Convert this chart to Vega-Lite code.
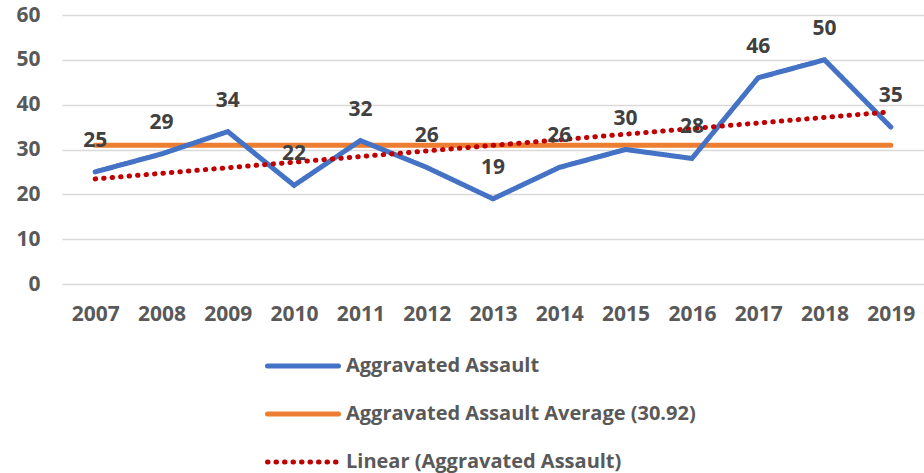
{
  "$schema": "https://vega.github.io/schema/vega-lite/v6.json",
  "width": 862,
  "height": 269,
  "autosize": {"type": "none"},
  "padding": {"left": 62, "top": 15, "right": 0, "bottom": 189},
  "background": "white",
  "config": {
    "view": {"stroke": null},
    "font": "Open Sans",
    "axis": {"labelFont": "Open Sans", "labelFontWeight": "bold", "labelFontSize": 21, "labelColor": "#595959", "ticks": false, "domain": false, "title": null},
    "legend": {"labelFont": "Open Sans"}
  },
  "data": {
    "values": [
      {"year": 2007, "value": 25},
      {"year": 2008, "value": 29},
      {"year": 2009, "value": 34},
      {"year": 2010, "value": 22},
      {"year": 2011, "value": 32},
      {"year": 2012, "value": 26},
      {"year": 2013, "value": 19},
      {"year": 2014, "value": 26},
      {"year": 2015, "value": 30},
      {"year": 2016, "value": 28},
      {"year": 2017, "value": 46},
      {"year": 2018, "value": 50},
      {"year": 2019, "value": 35}
    ]
  },
  "encoding": {
    "x": {
      "field": "year", "type": "quantitative",
      "scale": {"domain": [2006.5, 2019.5], "nice": false, "zero": false},
      "axis": {"values": [2007,2008,2009,2010,2011,2012,2013,2014,2015,2016,2017,2018,2019], "format": "d", "grid": false, "labelPadding": 19, "labelFlush": false}
    }
  },
  "layer": [
    {
      "mark": {"type": "line", "strokeCap": "round", "strokeJoin": "miter"},
      "transform": [{"joinaggregate": [{"op": "mean", "field": "value", "as": "avg"}]}],
      "encoding": {
        "y": {"field": "avg", "type": "quantitative"},
        "color": {"datum": "Aggravated Assault Average (30.92)"},
        "strokeDash": {"datum": "Aggravated Assault Average (30.92)"},
        "strokeWidth": {"datum": "Aggravated Assault Average (30.92)"}
      }
    },
    {
      "mark": {"type": "line", "strokeCap": "round", "strokeJoin": "miter"},
      "encoding": {
        "y": {
          "field": "value", "type": "quantitative",
          "scale": {"domain": [0, 60], "nice": false},
          "axis": {"values": [0,10,20,30,40,50,60], "grid": true, "gridColor": "#d9d9d9", "gridWidth": 1.3, "labelPadding": 22}
        },
        "color": {
          "datum": "Aggravated Assault",
          "scale": {"domain": ["Aggravated Assault", "Aggravated Assault Average (30.92)", "Linear (Aggravated Assault)"], "range": ["#4472C4", "#ED7D31", "#C00000"]},
          "legend": {
            "title": null, "orient": "none", "legendX": 203, "legendY": 313, "direction": "vertical",
            "symbolType": "stroke", "symbolSize": 5041,
            "labelFontSize": 20, "labelFontWeight": "bold", "labelColor": "#595959", "labelOffset": 5, "rowPadding": -31, "labelLimit": 0,
            "encode": {"symbols": {"update": {"strokeCap": {"value": "round"}}}}
          }
        },
        "strokeDash": {
          "datum": "Aggravated Assault",
          "scale": {"domain": ["Aggravated Assault", "Aggravated Assault Average (30.92)", "Linear (Aggravated Assault)"], "range": [[1, 0], [1, 0], [0.5, 8]]},
          "legend": {"title": null}
        },
        "strokeWidth": {
          "datum": "Aggravated Assault",
          "scale": {"domain": ["Aggravated Assault", "Aggravated Assault Average (30.92)", "Linear (Aggravated Assault)"], "range": [5, 5, 4]},
          "legend": {"title": null}
        }
      }
    },
    {
      "mark": {"type": "line", "strokeCap": "round"},
      "transform": [{"regression": "value", "on": "year"}],
      "encoding": {
        "y": {"field": "value", "type": "quantitative"},
        "color": {"datum": "Linear (Aggravated Assault)"},
        "strokeDash": {"datum": "Linear (Aggravated Assault)"},
        "strokeWidth": {"datum": "Linear (Aggravated Assault)"}
      }
    },
    {
      "mark": {"type": "text", "dy": -31, "fontSize": 21, "fontWeight": "bold", "font": "Open Sans", "color": "#404040"},
      "encoding": {
        "y": {"field": "value", "type": "quantitative"},
        "text": {"field": "value", "type": "quantitative"}
      }
    }
  ]
}
